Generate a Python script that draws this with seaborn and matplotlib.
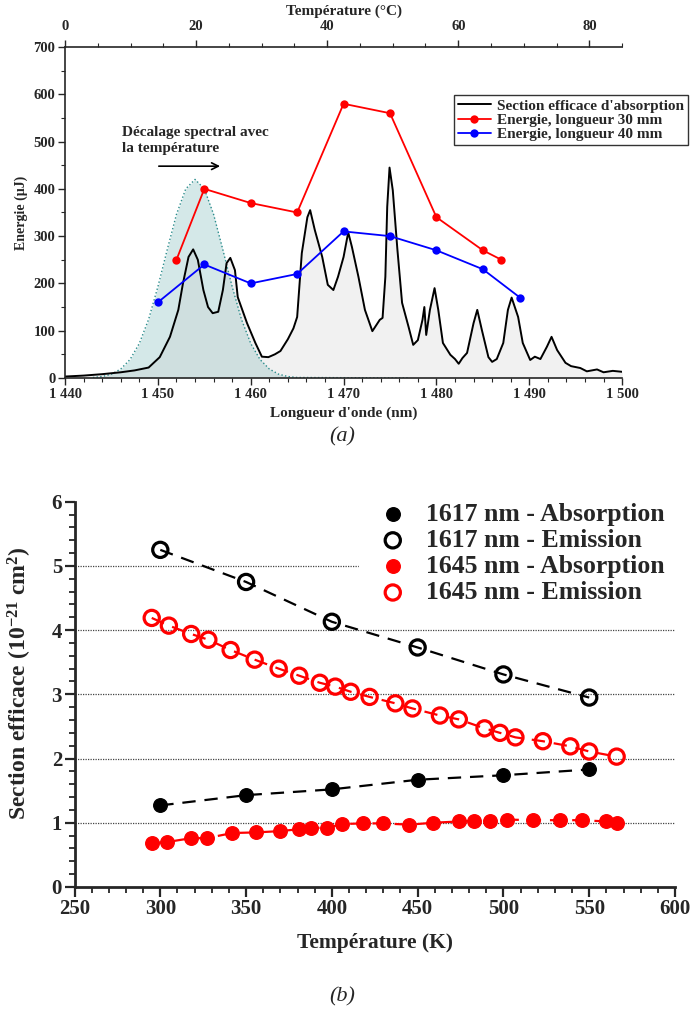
import pandas as pd
import matplotlib.pyplot as plt
import seaborn as sns
from matplotlib.ticker import MultipleLocator, FuncFormatter, FixedLocator

# ---- (a) spectrum + energies ----
spec_wl = [1440.0, 1442.0, 1444.0, 1446.0, 1447.5, 1449.0, 1450.2, 1451.3, 1452.2, 1452.7,
           1453.3, 1453.8, 1454.3, 1454.9, 1455.4, 1455.9, 1456.5, 1457.0, 1457.4, 1457.8,
           1458.3, 1458.6, 1459.6, 1460.5, 1461.2, 1461.9, 1462.6, 1463.2, 1464.0, 1464.6,
           1465.0, 1465.5, 1466.1, 1466.4, 1466.9, 1467.7, 1468.3, 1468.9, 1469.4, 1470.0,
           1470.5, 1470.9, 1471.6, 1472.3, 1473.1, 1473.9, 1474.2, 1474.5, 1474.7, 1474.95,
           1475.3, 1475.8, 1476.3, 1477.0, 1477.5, 1478.0, 1478.5, 1478.7, 1478.9, 1479.3,
           1479.8, 1480.2, 1480.7, 1481.5, 1482.0, 1482.4, 1482.8, 1483.3, 1484.0, 1484.4,
           1484.9, 1485.6, 1486.0, 1486.5, 1487.2, 1487.7, 1488.1, 1488.8, 1489.3, 1490.1,
           1490.6, 1491.2, 1491.9, 1492.4, 1493.0, 1493.9, 1494.5, 1495.5, 1496.2, 1497.3,
           1498.0, 1499.0, 1500.0]
spec_val = [3, 5, 8, 12, 16, 22, 44, 87, 144, 200,
            256, 272, 250, 186, 150, 137, 140, 186, 243, 254,
            228, 171, 116, 74, 45, 44, 50, 57, 82, 105,
            129, 264, 340, 355, 313, 256, 197, 186, 214, 256,
            308, 277, 214, 144, 99, 123, 127, 214, 362, 445,
            397, 271, 159, 108, 70, 80, 123, 150, 91, 144,
            190, 144, 74, 49, 40, 30, 42, 53, 116, 144,
            101, 44, 34, 40, 74, 144, 170, 129, 74, 38,
            45, 40, 66, 87, 59, 32, 25, 21, 14, 18,
            12, 15, 13]

gauss_wl = [1443.0, 1444.0, 1445.0, 1446.0, 1447.0, 1448.0, 1449.0, 1450.0, 1451.0, 1452.0,
            1453.0, 1454.0, 1455.0, 1456.0, 1457.0, 1458.0, 1459.0, 1460.0, 1461.0, 1462.0,
            1463.0, 1464.0, 1465.0, 1477.0]
gauss_val = [1, 3, 8, 19, 39, 73, 124, 193, 271, 346,
             400, 420, 400, 346, 271, 193, 124, 73, 39, 19,
             8, 3, 1, 0]

wl_30 = [1452, 1455, 1460, 1465, 1470, 1475, 1480, 1485, 1487]
e_30 = [250, 400, 370, 350, 580, 560, 340, 270, 250]
wl_40 = [1450, 1455, 1460, 1465, 1470, 1475, 1480, 1485, 1489]
e_40 = [160, 240, 200, 220, 310, 300, 270, 230, 170]

temp_c_ticks = [0, 20, 40, 60, 80]

# ---- (b) cross sections vs temperature ----
t_1617 = [300, 350, 400, 450, 500, 550]
abs_1617 = [1.27, 1.43, 1.52, 1.67, 1.74, 1.83]
em_1617 = [5.25, 4.75, 4.13, 3.73, 3.31, 2.95]

t_abs_1645 = [295, 304, 318, 327, 342, 356, 370, 381, 388, 397, 406, 418,
              430, 445, 459, 474, 483, 492, 502, 517, 533, 546, 560, 566]
abs_1645 = [0.68, 0.70, 0.76, 0.76, 0.84, 0.85, 0.87, 0.90, 0.92, 0.92, 0.98, 0.99,
            0.99, 0.97, 1.00, 1.02, 1.03, 1.03, 1.05, 1.04, 1.04, 1.04, 1.02, 1.00]
t_em_1645 = [295, 305, 318, 328, 341, 355, 369, 381, 393, 402, 411, 422,
             437, 447, 463, 474, 489, 498, 507, 523, 539, 550, 566]
em_1645 = [4.19, 4.07, 3.94, 3.85, 3.69, 3.54, 3.40, 3.29, 3.18, 3.12, 3.04, 2.96,
           2.86, 2.78, 2.67, 2.61, 2.47, 2.40, 2.33, 2.27, 2.19, 2.11, 2.03]

sns.set_theme(style="ticks")
plt.rcParams['font.family'] = ['Liberation Serif', 'DejaVu Serif']
plt.rcParams['font.weight'] = 'bold'
plt.rcParams['axes.labelweight'] = 'bold'
plt.rcParams['mathtext.fontset'] = 'custom'
plt.rcParams['mathtext.rm'] = 'Liberation Serif:bold'
plt.rcParams['mathtext.bf'] = 'Liberation Serif:bold'
plt.rcParams['mathtext.it'] = 'Liberation Serif:bold:italic'
plt.rcParams['mathtext.default'] = 'rm'

fig = plt.figure(figsize=(6.92, 10.16), dpi=100)
ax1 = fig.add_axes([0.094, 0.628, 0.805, 0.3257])
ax2 = fig.add_axes([0.1077, 0.127, 0.8677, 0.3792])

# ---------- panel (a) ----------
ax1.fill_between(gauss_wl, gauss_val, color='#2a8c8c', alpha=0.2, lw=0)
sns.lineplot(x=gauss_wl, y=gauss_val, ax=ax1, color='#2a8c8c', lw=1.0,
             linestyle=':', sort=False)
ax1.fill_between(spec_wl, spec_val, color='#bdbdbd', alpha=0.2, lw=0)
sns.lineplot(x=spec_wl, y=spec_val, ax=ax1, color='black', lw=1.4, sort=False,
             label="Section efficace d'absorption")
sns.lineplot(x=wl_30, y=e_30, ax=ax1, color='#ff0000', lw=1.3, marker='o',
             markersize=6, markeredgewidth=0, sort=False, label='Energie, longueur 30 mm')
sns.lineplot(x=wl_40, y=e_40, ax=ax1, color='#0000ff', lw=1.3, marker='o',
             markersize=6, markeredgewidth=0, sort=False, label='Energie, longueur 40 mm')

ax1.set_xlim(1440, 1500)
ax1.set_ylim(0, 700)
ax1.xaxis.set_major_locator(MultipleLocator(10))
ax1.xaxis.set_minor_locator(MultipleLocator(2))
ax1.yaxis.set_major_locator(MultipleLocator(100))
ax1.yaxis.set_minor_locator(MultipleLocator(50))
ax1.xaxis.set_major_formatter(FuncFormatter(lambda v, p: f"{int(v) // 1000} {int(v) % 1000:03d}"))
ax1.tick_params(which='major', direction='out', length=5, width=1, labelsize=10.5, pad=2)
ax1.tick_params(which='minor', direction='out', length=3, width=0.8)
for lab in ax1.get_xticklabels() + ax1.get_yticklabels():
    lab.set_fontweight('bold')
ax1.spines['right'].set_visible(False)
ax1.spines['top'].set_visible(False)
for s in ['left', 'bottom']:
    ax1.spines[s].set_linewidth(1.2)
ax1.set_xlabel("Longueur d'onde (nm)", fontsize=11, fontweight='bold', labelpad=4)
ax1.set_ylabel("Energie (µJ)", fontsize=10, fontweight='bold', labelpad=4)

sec = ax1.secondary_xaxis('top', functions=(lambda x: (x - 1440) * 85 / 60,
                                            lambda t: 1440 + t * 60 / 85))
sec.xaxis.set_major_locator(FixedLocator(temp_c_ticks))
sec.xaxis.set_minor_locator(FixedLocator(list(range(5, 86, 5))))
sec.tick_params(which='major', direction='out', length=5, width=1, labelsize=10.5, pad=5)
sec.tick_params(which='minor', direction='out', length=3, width=0.8)
sec.spines['top'].set_linewidth(1.2)
sec.set_xlabel("Température (°C)", fontsize=11, fontweight='bold', labelpad=4)
for lab in sec.get_xticklabels():
    lab.set_fontweight('bold')

leg1 = ax1.legend(loc='upper left', bbox_to_anchor=(0.684, 0.878),
                  prop={'size': 11, 'weight': 'bold'},
                  frameon=True, fancybox=False, edgecolor='#333333', framealpha=1,
                  handlelength=2.2, handletextpad=0.4, borderpad=0.25, labelspacing=0.05)
leg1.get_frame().set_linewidth(1.0)

ax1.text(1446.1, 503, "Décalage spectral avec\nla température", fontsize=11,
         fontweight='bold', ha='left', va='center', linespacing=1.3)
ax1.annotate("", xy=(1457.0, 448), xytext=(1449.8, 448),
             arrowprops=dict(arrowstyle='->', color='black', lw=1.2))

fig.text(0.494, 1 - 437 / 1016, "(a)", fontsize=16, style='italic',
         fontweight='normal', ha='center', va='center')

# ---------- panel (b) ----------
for yv in [1, 2, 3, 4, 5]:
    ax2.axhline(yv, color='#444444', lw=0.9, linestyle=(0, (1, 1)), zorder=0)

sns.lineplot(x=t_1617, y=em_1617, ax=ax2, color='black', lw=1.6,
             linestyle=(0, (6, 4)), sort=False)
sns.lineplot(x=t_1617, y=abs_1617, ax=ax2, color='black', lw=1.6,
             linestyle=(0, (6, 4)), sort=False)
sns.lineplot(x=t_em_1645, y=em_1645, ax=ax2, color='#ff0000', lw=1.6,
             linestyle=(0, (6, 4)), sort=False)
sns.lineplot(x=t_abs_1645, y=abs_1645, ax=ax2, color='#ff0000', lw=1.6,
             linestyle=(0, (6, 4)), sort=False)

ax2.scatter(t_1617, abs_1617, s=95, color='black', zorder=3, label='1617 nm - Absorption')
ax2.scatter(t_1617, em_1617, s=120, facecolors='none', edgecolors='black', linewidths=2.3,
            zorder=3, label='1617 nm - Emission')
ax2.scatter(t_abs_1645, abs_1645, s=95, color='#ff0000', zorder=3,
            label='1645 nm - Absorption')
ax2.scatter(t_em_1645, em_1645, s=120, facecolors='none', edgecolors='#ff0000',
            linewidths=2.3, zorder=3, label='1645 nm - Emission')

ax2.set_xlim(250, 600)
ax2.set_ylim(0, 6)
ax2.xaxis.set_major_locator(MultipleLocator(50))
ax2.xaxis.set_minor_locator(MultipleLocator(10))
ax2.yaxis.set_major_locator(MultipleLocator(1))
ax2.yaxis.set_minor_locator(MultipleLocator(0.2))
ax2.tick_params(which='major', direction='out', length=7, width=1.6, labelsize=15, pad=2)
ax2.tick_params(which='minor', direction='out', length=4, width=1.3)
for lab in ax2.get_xticklabels() + ax2.get_yticklabels():
    lab.set_fontweight('bold')
ax2.spines['right'].set_visible(False)
ax2.spines['top'].set_visible(False)
for s in ['left', 'bottom']:
    ax2.spines[s].set_linewidth(2)
ax2.set_xlabel("Température (K)", fontsize=15.5, fontweight='bold', labelpad=10)
ax2.set_ylabel("Section efficace (10$^{-21}$ cm$^{2}$)", fontsize=17,
               fontweight='bold')
ax2.yaxis.set_label_coords(-0.068, 0.53)

leg2 = ax2.legend(loc='upper left', bbox_to_anchor=(0.453, 1.05, 0.57, 0.0), mode='expand',
                  prop={'size': 18.5, 'weight': 'bold'},
                  frameon=True, fancybox=False, edgecolor='white', facecolor='white',
                  framealpha=1, handletextpad=0.3, borderpad=0.3, labelspacing=0.12,
                  scatterpoints=1)

fig.text(0.494, 1 - 997 / 1016, "(b)", fontsize=16, style='italic',
         fontweight='normal', ha='center', va='center')

fig.savefig('out.png', dpi=100)
